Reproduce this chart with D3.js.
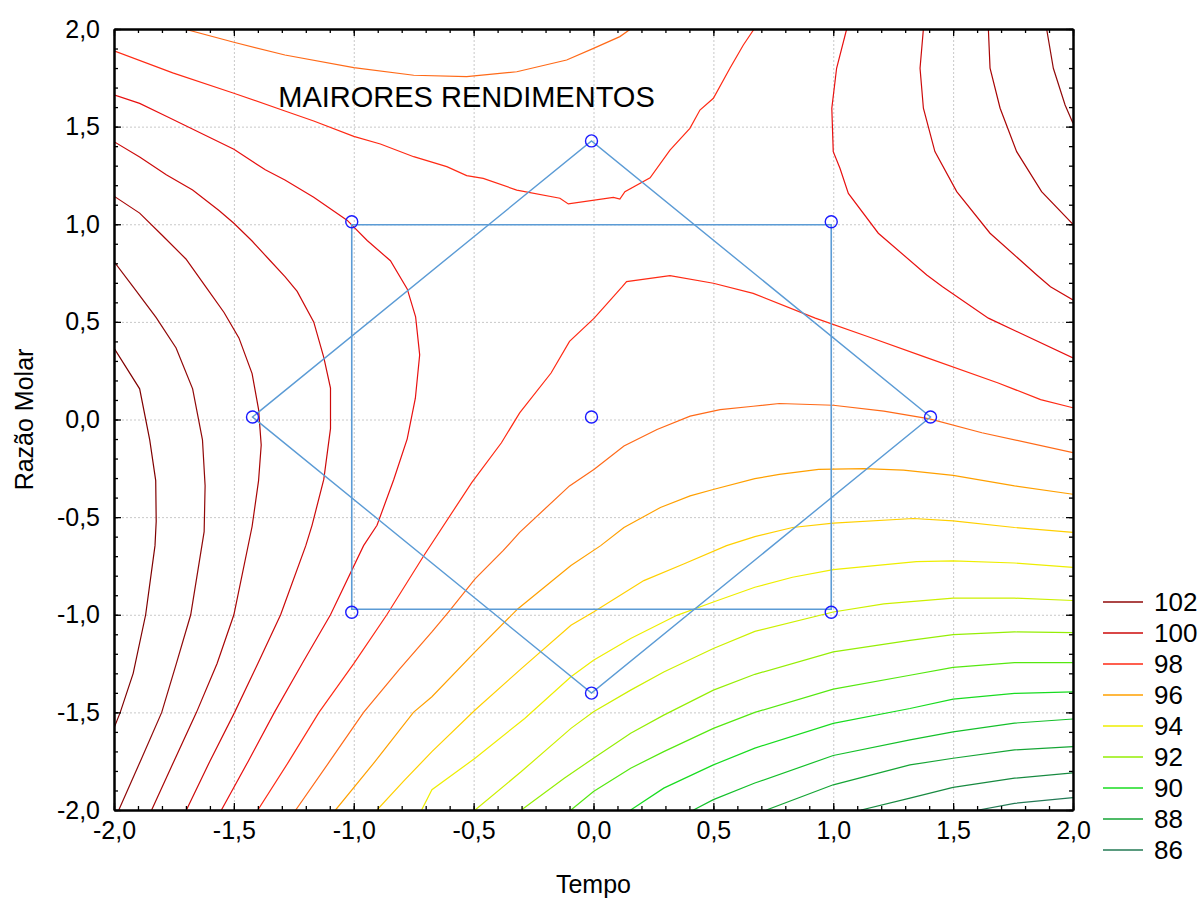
<!DOCTYPE html>
<html>
<head>
<meta charset="utf-8">
<script src="https://cdn.jsdelivr.net/npm/d3@7"></script>
<style>
  body { margin: 0; background: #fff; }
  text { font-family: "Liberation Sans", Arial, sans-serif; fill: #000; }
  .grid line { stroke: #c8c8c8; stroke-dasharray: 2,2; }
  .grid path { display: none; }
  .contour { fill: none; stroke-width: 1.2; }
</style>
</head>
<body>
<script>
// contour lines, [Tempo, Razão Molar]
const lineA = [[-2,0.366],[-1.893,0.157],[-1.851,-0.104],[-1.826,-0.313],[-1.824,-0.522],[-1.829,-0.646],[-1.868,-1.0],[-1.92,-1.3],[-1.974,-1.5],[-2,-1.58]];
const lineB = [[-2,0.809],[-1.92,0.679],[-1.824,0.522],[-1.741,0.366],[-1.672,0.157],[-1.631,-0.104],[-1.62,-0.339],[-1.624,-0.574],[-1.68,-1.0],[-1.74,-1.25],[-1.801,-1.5],[-1.89,-1.75],[-1.98,-2.0]];
const lineC = [[-2,1.144],[-1.893,1.057],[-1.796,0.94],[-1.7,0.822],[-1.617,0.679],[-1.541,0.548],[-1.479,0.418],[-1.424,0.235],[-1.397,0.052],[-1.386,-0.131],[-1.397,-0.313],[-1.424,-0.548],[-1.5,-1.0],[-1.57,-1.25],[-1.656,-1.5],[-1.75,-1.75],[-1.843,-2.0]];
const lineD = [[-2,1.423],[-1.893,1.345],[-1.782,1.253],[-1.672,1.175],[-1.562,1.07],[-1.5,1.005],[-1.424,0.914],[-1.355,0.822],[-1.286,0.731],[-1.236,0.656],[-1.167,0.5],[-1.125,0.318],[-1.097,0.161],[-1.097,-0.047],[-1.125,-0.307],[-1.174,-0.542],[-1.2,-0.646],[-1.305,-1.0],[-1.4,-1.25],[-1.497,-1.5],[-1.6,-1.75],[-1.698,-2.0]];
const lineE = [[-2,1.663],[-1.893,1.619],[-1.782,1.553],[-1.5,1.384],[-1.369,1.279],[-1.287,1.227],[-1.167,1.138],[-1.028,1.021],[-0.944,0.917],[-0.847,0.813],[-0.777,0.669],[-0.742,0.526],[-0.725,0.331],[-0.743,0.109],[-0.777,-0.099],[-0.833,-0.307],[-0.903,-0.542],[-0.959,-0.646],[-1.097,-1.0],[-1.215,-1.25],[-1.331,-1.5],[-1.44,-1.75],[-1.552,-2.0]];
const lineF = [[-2,1.888],[-1.755,1.775],[-1.5,1.671],[-1.287,1.58],[-1.167,1.529],[-1.0,1.45],[-0.889,1.411],[-0.75,1.346],[-0.612,1.295],[-0.529,1.249],[-0.46,1.235],[-0.32,1.175],[-0.14,1.133],[-0.105,1.104],[0.083,1.138],[0.11,1.129],[0.131,1.167],[0.236,1.238],[0.319,1.38],[0.402,1.491],[0.444,1.585],[0.5,1.645],[0.569,1.799],[0.625,1.918],[0.67,2.0]];
const lineG = [[-1.707,2.0],[-1.5,1.932],[-1.287,1.867],[-1.0,1.802],[-0.75,1.763],[-0.529,1.756],[-0.32,1.781],[-0.112,1.841],[0.0,1.901],[0.11,1.961],[0.155,2.0]];
const lineH = [[1.056,2.0],[1.014,1.799],[0.994,1.594],[1.0,1.372],[1.028,1.287],[1.063,1.158],[1.188,0.954],[1.39,0.74],[1.456,0.68],[1.647,0.519],[2.0,0.315]];
const lineI = [[1.376,2.0],[1.362,1.799],[1.376,1.594],[1.424,1.372],[1.515,1.167],[1.654,0.954],[1.849,0.74],[1.906,0.68],[2.0,0.612]];
const lineJ = [[1.647,2.0],[1.654,1.799],[1.696,1.594],[1.765,1.372],[1.869,1.167],[2.0,1.0]];
const lineK = [[1.89,2.0],[1.918,1.799],[1.967,1.611],[2.0,1.517]];
const lineM = [[-1.4,-2.0],[-1.27,-1.75],[-1.145,-1.5],[-1.0,-1.25],[-0.862,-1.0],[-0.708,-0.698],[-0.508,-0.323],[-0.384,-0.119],[-0.308,0.034],[-0.177,0.238],[-0.1,0.4],[0.003,0.519],[0.12,0.68],[0.138,0.706],[0.319,0.737],[0.5,0.698],[0.666,0.646],[0.925,0.519],[1.143,0.425],[1.375,0.323],[1.688,0.187],[1.865,0.102],[2.0,0.06]];
const lineN = [[-1.242,-2.0],[-1.1,-1.75],[-0.959,-1.5],[-0.81,-1.28],[-0.674,-1.088],[-0.605,-0.986],[-0.494,-0.816],[-0.377,-0.672],[-0.308,-0.578],[-0.1,-0.34],[0.003,-0.255],[0.127,-0.136],[0.265,-0.051],[0.403,0.017],[0.528,0.051],[0.666,0.068],[0.775,0.082],[1.0,0.073],[1.211,0.043],[1.402,0.003],[1.62,-0.068],[2.0,-0.17]];
const lineO = [[-1.076,-2.0],[-0.91,-1.75],[-0.751,-1.5],[-0.674,-1.42],[-0.494,-1.19],[-0.315,-0.969],[-0.094,-0.748],[0.03,-0.646],[0.127,-0.553],[0.279,-0.451],[0.403,-0.391],[0.503,-0.357],[0.673,-0.303],[0.775,-0.281],[0.939,-0.255],[1.129,-0.252],[1.293,-0.259],[1.5,-0.286],[1.756,-0.34],[2.0,-0.383]];
const lineP = [[-0.903,-2.0],[-0.79,-1.85],[-0.674,-1.701],[-0.494,-1.488],[-0.301,-1.276],[-0.094,-1.054],[0,-0.986],[0.21,-0.825],[0.376,-0.74],[0.555,-0.646],[0.673,-0.6],[0.83,-0.553],[1.0,-0.531],[1.334,-0.507],[1.5,-0.519],[1.756,-0.553],[2.0,-0.578]];
const lineQ = [[-0.717,-2.0],[-0.674,-1.896],[-0.494,-1.735],[-0.287,-1.531],[-0.094,-1.318],[0,-1.233],[0.155,-1.122],[0.348,-1.003],[0.5,-0.935],[0.673,-0.859],[0.83,-0.808],[1.0,-0.769],[1.347,-0.728],[1.5,-0.724],[1.756,-0.735],[2.0,-0.757]];
const lineR = [[-0.494,-2.0],[-0.301,-1.803],[-0.094,-1.582],[0,-1.497],[0.155,-1.386],[0.293,-1.293],[0.5,-1.173],[0.673,-1.085],[1.0,-0.986],[1.211,-0.944],[1.5,-0.915],[1.756,-0.915],[2.0,-0.927]];
const lineS = [[-0.301,-2.0],[-0.122,-1.837],[0,-1.735],[0.155,-1.607],[0.293,-1.514],[0.5,-1.386],[0.673,-1.305],[1.0,-1.19],[1.32,-1.131],[1.5,-1.102],[1.756,-1.088],[2.0,-1.092]];
const lineT = [[-0.094,-2.0],[0,-1.905],[0.155,-1.786],[0.293,-1.701],[0.5,-1.582],[0.673,-1.5],[1.0,-1.381],[1.32,-1.31],[1.5,-1.27],[1.756,-1.245],[2.0,-1.245]];
const lineU = [[0.155,-2.0],[0.293,-1.888],[0.5,-1.769],[0.673,-1.683],[1.0,-1.556],[1.32,-1.48],[1.5,-1.432],[1.756,-1.403],[2.0,-1.395]];
const lineV = [[0.417,-2.0],[0.5,-1.947],[0.673,-1.862],[1.0,-1.721],[1.32,-1.641],[1.5,-1.6],[1.756,-1.555],[2.0,-1.534]];
const lineW = [[0.721,-2.0],[1.0,-1.871],[1.32,-1.769],[1.5,-1.735],[1.756,-1.692],[2.0,-1.675]];
const lineX = [[1.116,-2.0],[1.32,-1.939],[1.5,-1.884],[1.756,-1.837],[2.0,-1.81]];
const lineY = [[1.606,-2.0],[1.756,-1.966],[2.0,-1.937]];

// level of each line above
const lineLevels = [103,102,101,100,99,98,97,99,100,101,102,98,97,96,95,94,93,92,91,90,89,88,87,86];

// design points (central composite)
const designTempo = [-1, 1, -1, 1, -1.414, 1.414, 0, 0, 0];
const designRazao = [-1, -1, 1, 1, 0, 0, -1.414, 1.414, 0];
const squarePts = [[-1,0.985],[1,0.985],[1,-0.985],[-1,-0.985]];
const diamondPts = [[-1.414,0],[0,1.414],[1.414,0],[0,-1.414]];

const legendLevels = [102,100,98,96,94,92,90,88,86];
const tickValues = [-2,-1.5,-1,-0.5,0,0.5,1,1.5,2];

const allLines = [lineA,lineB,lineC,lineD,lineE,lineF,lineG,lineH,lineI,lineJ,lineK,
                  lineM,lineN,lineO,lineP,lineQ,lineR,lineS,lineT,lineU,lineV,lineW,lineX,lineY];
const contours = allLines.map((pts, i) => ({level: lineLevels[i], pts: pts}));

// colour ramp by level
const rampLevels = [86,87,88,89,90,91,92,93,94,95,96,97,98,99,100,101,102,103];
const rampColors = ["#237a55","#178a40","#15a535","#14c02a","#18dc20","#55e810","#95ee05","#cdf000","#eeee00","#ffd000",
                    "#ffa000","#ff6a18","#ff2a14","#e81010","#cc0a0a","#a80505","#900808","#800000"];
const color = d3.scaleLinear().domain(rampLevels).range(rampColors);

const W = 1202, H = 898;
const svg = d3.select("body").append("svg").attr("width", W).attr("height", H);

const pLeft = 114, pRight = 1073, pTop = 29, pBottom = 810;
const x = d3.scaleLinear().domain([-2, 2]).range([pLeft, pRight]);
const y = d3.scaleLinear().domain([-2, 2]).range([pBottom, pTop]);

const fmt = d3.formatLocale({decimal: ",", thousands: ".", grouping: [3], currency: ["", ""], minus: "-"}).format(".1f");
const minorTicks = d3.range(-20, 21).map(d => d / 10);

// grid
svg.append("g").attr("class", "grid")
   .attr("transform", "translate(0," + pBottom + ")")
   .call(d3.axisBottom(x).tickValues(tickValues).tickSize(-(pBottom - pTop)).tickFormat(""));
svg.append("g").attr("class", "grid")
   .attr("transform", "translate(" + pLeft + ",0)")
   .call(d3.axisLeft(y).tickValues(tickValues).tickSize(-(pRight - pLeft)).tickFormat(""));

// clip to plot area
svg.append("clipPath").attr("id", "plotclip")
   .append("rect").attr("x", pLeft).attr("y", pTop).attr("width", pRight - pLeft).attr("height", pBottom - pTop);

const plot = svg.append("g").attr("clip-path", "url(#plotclip)");

const line = d3.line().x(d => x(d[0])).y(d => y(d[1]));

plot.selectAll("path.contour")
    .data(contours)
    .join("path")
    .attr("class", "contour")
    .attr("stroke", d => color(d.level))
    .attr("d", d => line(d.pts));

// design square, diamond and points (drawn slightly offset, as in the original)
const overlay = plot.append("g").attr("transform", "translate(-2,-2.5)");
overlay.append("path")
    .attr("d", line(squarePts) + "Z")
    .attr("fill", "none").attr("stroke", "#5b9bd5").attr("stroke-width", 1.6);
overlay.append("path")
    .attr("d", line(diamondPts) + "Z")
    .attr("fill", "none").attr("stroke", "#5b9bd5").attr("stroke-width", 1.4);

overlay.selectAll("circle.pt")
    .data(designTempo.map((t, i) => [t, designRazao[i]]))
    .join("circle")
    .attr("class", "pt")
    .attr("cx", d => x(d[0]))
    .attr("cy", d => y(d[1]))
    .attr("r", 6)
    .attr("fill", "none")
    .attr("stroke", "#1a1aff")
    .attr("stroke-width", 1.4);

// axes with inward ticks
function styleAxis(g) {
  g.select(".domain").attr("stroke", "#000").attr("stroke-width", 2);
  g.selectAll(".tick line").attr("stroke", "#000").attr("stroke-width", 1.3);
  g.selectAll(".tick text").attr("font-size", 25).attr("font-family", "Liberation Sans, Arial, sans-serif");
}

svg.append("g").attr("transform", "translate(0," + pBottom + ")")
   .call(d3.axisBottom(x).tickValues(minorTicks).tickSizeInner(-4).tickSizeOuter(0).tickFormat(""))
   .call(styleAxis);
svg.append("g").attr("transform", "translate(0," + pBottom + ")")
   .call(d3.axisBottom(x).tickValues(tickValues).tickSizeInner(-7).tickSizeOuter(0).tickPadding(11).tickFormat(fmt))
   .call(styleAxis);
svg.append("g").attr("transform", "translate(0," + pTop + ")")
   .call(d3.axisTop(x).tickValues(minorTicks).tickSizeInner(-4).tickSizeOuter(0).tickFormat(""))
   .call(styleAxis);
svg.append("g").attr("transform", "translate(0," + pTop + ")")
   .call(d3.axisTop(x).tickValues(tickValues).tickSizeInner(-7).tickSizeOuter(0).tickFormat(""))
   .call(styleAxis);
svg.append("g").attr("transform", "translate(" + pLeft + ",0)")
   .call(d3.axisLeft(y).tickValues(minorTicks).tickSizeInner(-4).tickSizeOuter(0).tickFormat(""))
   .call(styleAxis);
svg.append("g").attr("transform", "translate(" + pLeft + ",0)")
   .call(d3.axisLeft(y).tickValues(tickValues).tickSizeInner(-7).tickSizeOuter(0).tickPadding(14).tickFormat(fmt))
   .call(styleAxis);
svg.append("g").attr("transform", "translate(" + pRight + ",0)")
   .call(d3.axisRight(y).tickValues(minorTicks).tickSizeInner(-4).tickSizeOuter(0).tickFormat(""))
   .call(styleAxis);
svg.append("g").attr("transform", "translate(" + pRight + ",0)")
   .call(d3.axisRight(y).tickValues(tickValues).tickSizeInner(-7).tickSizeOuter(0).tickFormat(""))
   .call(styleAxis);

// titles
svg.append("text")
   .attr("x", x(-1.315)).attr("y", y(1.6))
   .attr("font-size", 29)
   .text("MAIRORES RENDIMENTOS");

svg.append("text")
   .attr("x", (pLeft + pRight) / 2).attr("y", 893)
   .attr("text-anchor", "middle").attr("font-size", 25)
   .text("Tempo");

svg.append("text")
   .attr("transform", "translate(33," + (pTop + pBottom) / 2 + ") rotate(-90)")
   .attr("text-anchor", "middle").attr("font-size", 25)
   .text("Razão Molar");

// legend
const legend = svg.append("g").attr("transform", "translate(1103,602)");
const item = legend.selectAll("g")
    .data(legendLevels)
    .join("g")
    .attr("transform", (d, i) => "translate(0," + i * 31 + ")");
item.append("line")
    .attr("x1", 0).attr("x2", 40)
    .attr("stroke", d => color(d)).attr("stroke-width", 1.3);
item.append("text")
    .attr("x", 51).attr("dy", "0.35em")
    .attr("font-size", 26)
    .text(d => d);
</script>
</body>
</html>
